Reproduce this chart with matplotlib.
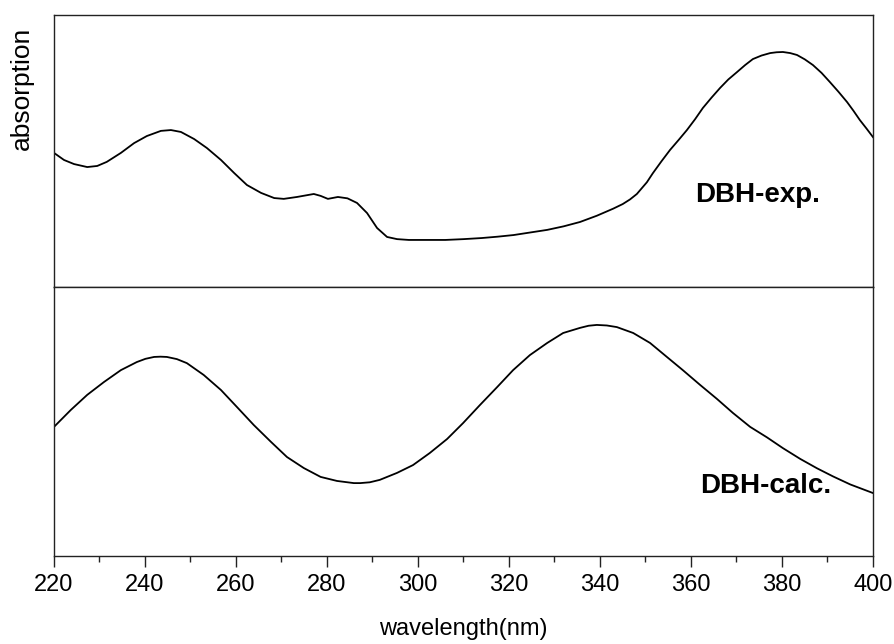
import matplotlib
matplotlib.use("Agg")
import matplotlib.pyplot as plt
from matplotlib.ticker import MultipleLocator

plt.rcParams['font.family'] = ['Liberation Sans', 'DejaVu Sans']

# Experimental spectrum (DBH-exp.), arbitrary absorption units
exp_wl = [220.0, 222.2, 224.4, 227.3, 229.5, 231.6, 234.7, 237.6, 240.4,
          243.5, 245.7, 247.9, 250.8, 253.6, 256.7, 259.6, 262.4, 265.5,
          268.4, 270.5, 273.4, 277.1, 278.6, 280.2, 282.4, 284.5, 286.6,
          288.8, 291.0, 293.2, 295.4, 298.0, 302.0, 306.0, 310.0, 314.0,
          317.5, 321.0, 324.5, 328.4, 332.0, 335.6, 339.3, 342.9, 345.0,
          346.6, 348.1, 350.3, 351.6, 353.5, 355.4, 357.3, 359.1,
          360.9, 362.6, 364.5, 366.4, 368.2, 370.1, 371.9, 373.6, 375.5,
          377.4, 378.8, 380.2, 381.8, 383.3, 385.0, 386.8, 388.7, 390.5,
          392.4, 394.3, 395.7, 397.1, 398.6, 400.0]
exp_abs = [0.493, 0.467, 0.452, 0.441, 0.445, 0.460, 0.493, 0.529, 0.555,
           0.574, 0.577, 0.570, 0.544, 0.511, 0.467, 0.419, 0.375, 0.346,
           0.327, 0.324, 0.331, 0.342, 0.335, 0.324, 0.331, 0.326, 0.309,
           0.272, 0.217, 0.184, 0.176, 0.173, 0.173, 0.173, 0.176, 0.180,
           0.185, 0.191, 0.200, 0.210, 0.223, 0.239, 0.262, 0.288, 0.305,
           0.322, 0.342, 0.385, 0.418, 0.462, 0.504, 0.541, 0.577,
           0.617, 0.658, 0.696, 0.732, 0.763, 0.790, 0.816, 0.838, 0.851,
           0.860, 0.863, 0.864, 0.860, 0.853, 0.837, 0.816, 0.787, 0.754,
           0.718, 0.680, 0.648, 0.614, 0.582, 0.551]

# Calculated spectrum (DBH-calc.)
calc_wl = [220.0, 223.7, 227.3, 231.0, 234.7, 238.2, 240.1, 242.0, 243.4,
           244.8, 247.0, 249.2, 252.9, 256.7, 260.2, 263.9, 267.7, 271.2,
           274.9, 278.6, 282.2, 285.9, 287.3, 289.4, 291.6, 295.4, 298.9,
           302.6, 306.4, 309.9, 313.6, 317.4, 320.9, 324.6, 328.4, 331.9,
           335.6, 337.5, 339.3, 341.5, 343.7, 347.3, 351.0, 354.7, 358.2,
           362.0, 365.7, 369.2, 373.0, 376.7, 380.2, 384.0, 387.7, 391.2,
           395.0, 400.0]
calc_abs = [0.480, 0.543, 0.599, 0.647, 0.691, 0.721, 0.733, 0.740, 0.741,
            0.740, 0.732, 0.717, 0.673, 0.617, 0.554, 0.487, 0.424, 0.368,
            0.327, 0.294, 0.279, 0.271, 0.271, 0.274, 0.283, 0.309, 0.338,
            0.383, 0.435, 0.494, 0.561, 0.628, 0.691, 0.747, 0.792, 0.829,
            0.848, 0.856, 0.859, 0.857, 0.851, 0.829, 0.792, 0.740, 0.691,
            0.636, 0.584, 0.532, 0.480, 0.441, 0.401, 0.361, 0.326, 0.296,
            0.266, 0.234]

x_ticks = [220, 240, 260, 280, 300, 320, 340, 360, 380, 400]

W, H = 894, 644
fig = plt.figure(figsize=(W / 100, H / 100), dpi=100)

left, right = 54 / W, 873 / W
ax1 = fig.add_axes([left, 1 - 287 / H, right - left, 272 / H])
ax2 = fig.add_axes([left, 1 - 556 / H, right - left, 269 / H])

spine_col = '#222222'
for ax in (ax1, ax2):
    for s in ax.spines.values():
        s.set_linewidth(1.0)
        s.set_color(spine_col)
    ax.set_xlim(220, 400)
    ax.set_ylim(0, 1)
    ax.set_yticks([])

ax1.plot(exp_wl, exp_abs, color='black', lw=1.3, solid_joinstyle='round')
ax2.plot(calc_wl, calc_abs, color='black', lw=1.3, solid_joinstyle='round')

ax1.set_xticks([])

ax2.set_xticks(x_ticks)
ax2.xaxis.set_minor_locator(MultipleLocator(10))
ax2.tick_params(axis='x', which='major', direction='out', length=8, width=1.0,
                color=spine_col, labelsize=17, pad=5)
ax2.tick_params(axis='x', which='minor', direction='out', length=4, width=1.0,
                color=spine_col)
ax2.set_xlabel('wavelength(nm)', fontsize=17, labelpad=16)

fig.text(22 / W, 1 - 88 / H, 'absorption', rotation=90, fontsize=19,
         ha='center', va='center')

ax1.text(0.783, 0.338, 'DBH-exp.', transform=ax1.transAxes, fontsize=20,
         fontweight='bold', ha='left', va='center')
ax2.text(0.789, 0.260, 'DBH-calc.', transform=ax2.transAxes, fontsize=20,
         fontweight='bold', ha='left', va='center')

fig.savefig('out.png', dpi=100)
